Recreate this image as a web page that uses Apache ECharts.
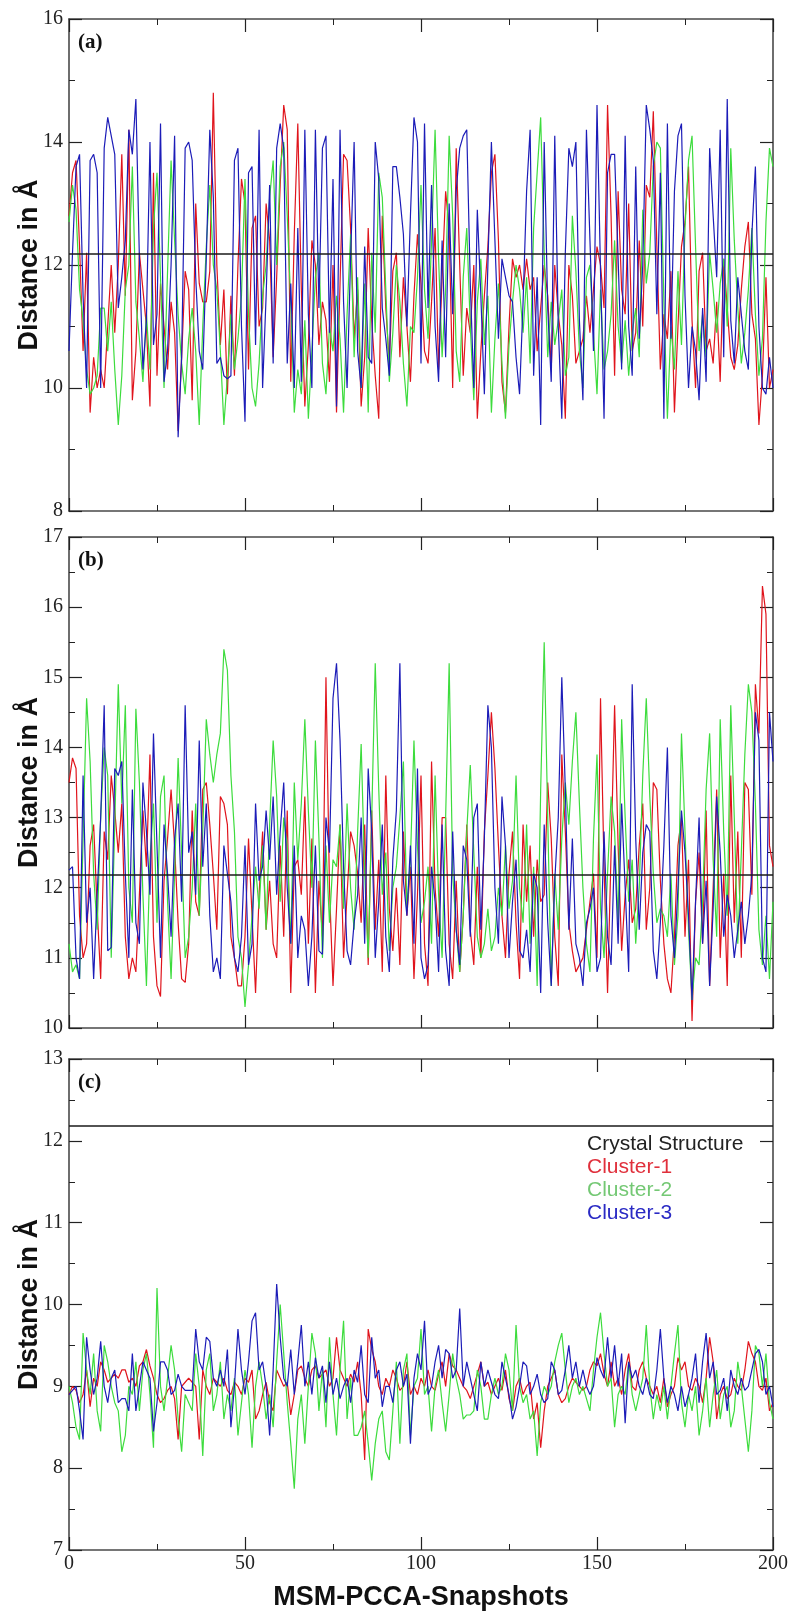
<!DOCTYPE html>
<html>
<head>
<meta charset="utf-8">
<title>Distance vs MSM-PCCA snapshots</title>
<script src="https://cdn.jsdelivr.net/npm/echarts@6/dist/echarts.min.js"></script>
<style>
	html, body { margin: 0; padding: 0; background: #fff; }
	#myChart { width: 792px; height: 1614px; }
</style>
</head>
<body>
<div id="myChart"></div>
<script>
//快照序号 0..200
var snapshots = [];
for (var i = 0; i <= 200; i++) {
	snapshots.push(i);
}
var xTicks = [0, 50, 100, 150, 200];
var crystalX = [0, 200];
var crystalY = 12.18;
var seriesNames = ['Crystal Structure', 'Cluster-1', 'Cluster-2', 'Cluster-3'];
var panelTags = ['(a)', '(b)', '(c)'];

// (a)
var aRed = [12.8,13.5,13.7,12.3,10.6,12.2,9.6,10.5,10.0,10.3,
	10.0,11.0,12.0,10.9,12.0,13.8,11.5,14.2,9.8,10.6,
	12.2,11.6,11.0,9.7,13.5,10.2,11.7,11.0,10.3,11.4,
	10.9,9.3,10.5,11.9,11.6,9.8,13.0,11.7,11.4,11.4,
	11.9,14.8,12.0,10.7,11.6,9.9,11.5,10.2,12.0,13.4,
	13.0,10.3,12.6,12.8,11.0,11.3,13.0,12.4,10.5,11.8,
	13.3,14.6,14.2,10.1,12.5,14.3,11.6,9.7,10.7,12.4,
	12.0,10.7,11.4,11.1,10.1,12.0,9.6,11.7,13.8,13.7,
	12.6,10.8,11.6,9.7,10.5,12.6,11.1,10.2,9.5,12.8,
	11.3,10.4,11.9,12.2,10.5,11.8,11.0,10.1,11.5,12.5,
	11.7,10.6,10.4,11.4,12.6,10.3,11.8,13.2,12.6,10.0,
	13.9,12.0,10.2,11.3,10.9,12.0,9.5,10.6,11.5,12.3,
	13.5,13.8,12.4,10.1,9.6,11.0,12.1,11.8,12.0,11.6,
	12.1,11.6,11.8,10.6,11.3,12.0,11.5,10.3,12.0,11.2,
	10.7,9.5,12.0,11.5,10.4,10.6,10.8,11.5,10.9,11.6,
	12.3,12.0,11.3,14.6,12.8,10.2,13.2,11.6,11.2,13.0,
	10.6,10.9,12.4,11.0,13.3,13.1,14.5,12.3,10.3,11.2,
	10.8,11.9,9.6,11.0,12.3,12.7,13.6,11.1,10.0,11.9,
	12.2,10.6,10.8,10.4,11.4,10.1,12.1,11.3,10.5,10.3,
	10.7,11.6,12.3,12.7,11.2,10.8,9.4,10.2,11.8,10.0,
	10.3];
var aGreen = [12.7,13.3,12.9,11.6,11.1,10.3,9.9,10.0,10.2,11.3,
	11.3,10.6,11.4,10.3,9.4,10.2,11.6,12.0,13.6,11.4,
	10.8,10.1,11.2,10.3,12.6,13.5,11.8,10.0,11.9,13.7,
	12.4,11.2,10.4,9.9,10.8,11.3,10.6,9.4,11.0,12.3,
	13.3,12.0,11.6,10.6,9.4,10.2,11.2,10.3,10.8,11.5,
	13.4,11.2,10.0,9.7,10.4,11.5,12.0,13.1,13.7,12.0,
	13.6,14.0,12.8,11.4,9.6,10.3,9.9,11.1,9.5,10.6,
	11.8,12.2,10.4,9.9,11.0,10.6,11.5,10.8,9.6,11.2,
	12.5,10.5,11.8,10.0,11.7,9.6,12.2,10.9,13.5,13.1,
	11.6,10.1,10.9,12.0,11.4,10.4,9.7,11.0,10.9,11.8,
	13.3,11.6,10.8,12.4,14.2,12.1,10.5,11.6,14.1,12.8,
	10.6,10.1,11.8,12.6,11.0,9.8,11.4,12.1,10.7,11.5,
	9.6,10.8,11.7,10.4,9.5,10.7,11.4,12.0,11.6,10.9,
	11.8,10.4,12.6,13.5,14.4,12.2,10.5,11.4,10.7,11.1,
	11.6,10.2,10.5,12.8,11.9,10.6,10.0,11.8,12.0,10.9,
	9.9,11.6,10.3,10.6,11.2,12.4,11.0,10.4,11.1,10.2,
	10.9,11.3,10.5,12.9,11.7,12.2,13.6,14.0,13.9,11.4,
	9.5,11.0,10.3,11.9,10.7,12.6,13.7,14.1,12.3,10.6,
	11.2,10.5,12.2,11.6,10.9,11.7,12.1,11.0,13.9,12.4,
	11.3,10.4,10.9,11.6,12.6,11.2,10.2,10.8,12.7,13.9,
	13.6];
var aBlue = [10.6,12.2,13.6,13.8,11.5,10.0,13.7,13.8,13.5,10.0,
	13.9,14.4,14.1,13.8,11.3,11.8,12.4,14.2,13.8,14.7,
	12.1,10.3,11.1,14.0,10.7,11.2,14.3,10.1,10.6,12.0,
	14.1,9.2,10.5,13.9,14.0,13.7,11.8,10.6,10.3,12.1,
	14.2,13.1,10.4,10.5,10.2,10.15,10.2,13.7,13.9,11.0,
	9.45,13.5,13.6,10.7,14.2,10.0,11.5,13.3,10.4,13.9,
	14.3,13.9,10.4,11.7,10.0,12.6,10.1,14.2,11.2,10.0,
	14.2,11.3,13.9,14.1,10.9,13.4,9.7,14.2,11.4,10.0,
	12.1,14.0,10.6,10.0,12.3,10.5,10.4,14.0,13.4,11.3,
	10.8,10.2,13.6,13.6,13.1,12.5,11.0,12.8,14.4,14.0,
	10.4,14.3,11.3,13.3,11.0,10.1,12.4,10.5,13.0,11.2,
	13.2,13.9,14.1,14.2,11.7,10.0,12.9,11.5,9.9,12.0,
	14.0,12.4,10.8,12.1,11.8,11.5,11.4,10.5,9.9,11.4,
	13.2,14.2,10.2,11.8,9.4,14.0,11.3,10.1,14.1,11.0,
	9.5,12.2,13.9,13.6,14.0,11.1,9.8,14.2,12.4,10.6,
	14.6,11.9,9.5,13.5,13.8,13.8,12.1,10.3,14.1,11.0,
	10.2,13.6,10.8,12.0,14.6,14.2,13.7,11.2,13.5,9.5,
	14.3,10.8,13.2,14.1,14.3,11.5,10.0,11.0,10.6,9.8,
	11.3,10.1,13.9,12.8,11.8,14.2,10.5,14.7,11.1,10.4,
	11.8,11.2,10.6,10.3,12.5,13.6,11.0,10.0,9.9,10.5,
	10.0];

// (b)
var bRed = [13.5,13.85,13.7,11.6,11.0,11.2,12.6,12.9,11.7,10.7,
	12.8,12.4,13.6,13.1,12.5,13.2,11.3,10.7,11.0,10.8,
	11.9,13.1,12.3,13.9,11.3,10.6,10.45,12.1,12.7,13.4,
	12.6,11.5,10.7,10.65,11.2,13.1,11.8,11.6,13.4,13.5,
	12.9,12.2,11.4,13.3,13.2,12.9,11.3,11.0,10.6,10.6,
	11.3,12.7,11.6,10.5,11.9,12.8,11.4,12.1,11.2,11.0,
	12.6,11.3,13.1,10.5,12.3,12.4,11.9,13.3,11.2,12.7,
	10.5,12.1,11.3,15.0,12.0,10.6,11.7,12.9,11.0,11.9,
	12.8,12.6,12.2,11.5,12.9,10.9,13.1,11.4,12.4,10.8,
	13.6,11.7,11.1,12.0,10.9,12.8,11.6,12.3,10.7,11.9,
	13.6,11.2,10.6,13.8,12.0,11.3,13.0,13.0,11.2,10.7,
	12.1,10.8,11.6,12.9,11.4,10.9,12.3,11.0,12.8,13.6,
	14.5,13.7,12.6,11.6,11.0,12.2,12.8,11.5,10.7,12.9,
	11.8,12.6,11.3,12.4,11.8,11.9,13.5,12.7,11.3,10.6,
	13.9,12.8,11.5,11.1,10.8,10.9,11.0,11.4,11.8,12.2,
	11.0,14.7,12.3,10.5,12.5,14.6,12.6,11.1,11.9,12.4,
	11.5,11.7,12.6,13.2,11.4,12.0,13.5,13.4,12.1,11.2,
	10.7,10.5,11.3,12.6,13.0,11.3,12.4,10.1,11.8,12.5,
	11.2,13.1,10.6,12.0,13.4,11.0,12.2,10.6,13.6,11.5,
	12.8,11.0,13.5,13.4,11.9,14.9,14.2,16.3,15.9,12.6,
	12.3];
var bGreen = [11.2,10.8,10.9,10.7,12.7,14.7,13.8,12.2,11.4,13.0,
	14.0,13.6,11.0,12.9,14.9,13.2,14.6,12.0,11.5,14.55,
	13.5,11.9,10.6,12.4,13.2,11.5,13.3,13.6,11.8,10.7,
	12.2,13.85,12.5,11.0,11.3,12.0,13.2,11.6,12.8,14.4,
	13.9,13.5,13.9,14.2,15.4,15.1,13.6,12.8,11.3,11.0,
	10.3,10.9,11.6,12.3,11.7,12.6,11.4,12.9,14.1,13.3,
	11.8,13.0,12.6,11.2,13.5,12.4,13.2,14.4,13.1,12.0,
	14.1,12.7,11.0,12.6,11.5,12.4,12.3,12.9,11.7,13.2,
	12.0,11.4,12.8,14.05,12.2,11.0,13.0,15.2,13.4,11.9,
	12.5,11.1,12.0,12.3,13.0,13.8,11.7,12.4,14.1,12.6,
	11.5,11.8,12.3,11.2,13.6,11.9,11.0,13.0,15.2,12.2,
	11.4,10.8,11.6,12.8,13.75,12.5,11.3,11.0,11.2,11.7,
	11.1,11.3,12.0,11.6,12.6,11.7,12.1,13.6,12.0,11.5,
	12.9,11.2,12.3,10.6,13.4,15.5,13.0,10.6,12.2,11.4,
	12.7,13.5,12.9,13.8,14.5,13.2,12.0,11.2,10.8,12.7,
	13.9,11.7,11.0,12.2,13.3,12.8,11.5,14.4,13.0,11.8,
	12.4,11.2,12.0,13.6,14.7,13.3,12.2,11.5,11.7,11.6,
	11.3,12.2,10.9,11.6,14.2,12.8,11.4,10.4,11.0,10.9,
	11.8,13.4,14.2,12.4,11.3,14.4,12.8,11.6,14.6,13.0,
	11.2,12.5,13.9,14.9,14.5,13.2,11.4,10.9,11.6,10.7,
	11.8];
var bBlue = [12.25,12.3,11.0,10.7,13.6,11.5,12.0,10.7,11.9,13.0,
	14.6,11.1,11.15,13.7,13.6,13.8,12.2,11.0,13.4,11.5,
	11.2,13.5,12.8,11.9,14.2,12.6,11.0,12.9,12.2,11.3,
	12.7,13.2,11.8,14.6,12.5,12.8,11.9,14.1,12.3,13.2,
	11.6,10.8,11.0,10.7,12.6,12.2,11.8,11.0,10.8,11.3,
	12.6,10.9,11.2,13.2,12.1,12.3,13.1,12.4,13.3,11.9,
	12.8,13.5,12.0,11.2,12.6,11.0,11.6,11.4,10.6,11.3,
	12.6,11.1,11.05,13.0,12.5,14.7,15.2,14.1,12.3,11.1,
	10.9,11.5,11.9,13.0,11.2,13.7,12.8,11.0,11.8,12.9,
	11.3,10.8,12.4,13.1,15.2,12.1,11.6,12.6,11.2,13.7,
	11.0,10.7,10.9,12.3,11.8,10.8,12.9,11.1,10.6,12.8,
	11.4,10.9,12.6,12.4,11.3,13.0,13.2,11.4,12.7,14.6,
	14.0,12.0,11.2,13.3,12.6,11.0,11.8,12.4,11.1,11.0,
	11.4,10.8,12.2,12.0,10.5,12.9,11.5,10.6,12.1,13.0,
	15.0,13.4,11.4,12.7,11.2,11.0,10.6,11.5,11.7,12.0,
	10.8,11.0,12.8,11.3,10.9,12.6,11.2,13.2,12.0,10.8,
	14.9,12.7,11.4,12.5,12.9,12.8,11.1,10.7,11.5,12.6,
	14.0,11.6,11.0,12.0,13.1,12.5,11.6,10.4,11.8,13.0,
	11.2,12.1,10.6,11.7,13.3,12.5,11.3,11.9,11.6,11.0,
	11.4,11.8,11.2,11.6,12.2,14.5,14.1,11.0,10.8,14.5,
	13.8];

// (c)
var cRed = [8.9,9.0,8.95,8.8,8.9,9.2,8.75,9.1,9.0,9.3,
	9.2,9.05,9.1,9.15,9.1,9.2,9.2,9.05,9.1,9.0,
	9.25,9.3,9.45,9.25,9.1,8.9,8.8,8.85,8.95,9.0,
	8.85,8.35,9.0,9.05,9.1,9.05,9.0,8.35,9.2,9.0,
	8.9,9.1,9.05,9.0,9.1,8.95,8.9,9.05,9.0,8.9,
	9.1,9.05,9.2,8.6,8.7,8.9,9.05,8.8,8.7,9.2,
	9.1,9.0,9.05,8.65,8.9,9.2,9.25,9.1,9.0,9.2,
	9.25,9.1,9.15,9.2,9.0,9.1,9.6,9.2,9.1,9.0,
	9.15,9.05,9.3,8.9,8.1,9.7,9.45,9.3,9.0,8.9,
	9.1,9.0,9.2,9.1,8.95,9.0,9.3,8.9,9.0,8.9,
	9.1,9.0,9.2,9.0,8.95,9.15,9.3,9.0,9.4,9.25,
	9.2,9.1,9.0,8.95,8.85,9.0,9.15,9.3,9.0,9.05,
	8.9,9.0,9.1,8.95,9.2,8.85,8.7,9.0,9.1,8.9,
	9.0,9.05,8.6,8.8,8.25,8.7,9.0,9.1,9.2,8.9,
	8.8,8.85,9.0,9.1,9.05,9.0,8.95,9.0,9.2,9.3,
	9.25,9.4,9.15,9.0,9.3,9.0,9.1,8.9,9.2,9.4,
	9.0,8.95,9.2,9.3,9.1,9.0,8.9,9.0,8.8,9.1,
	8.75,8.9,9.0,9.35,9.2,9.3,9.0,8.95,9.1,9.0,
	8.8,9.1,9.6,9.3,8.6,8.9,9.0,8.85,8.9,9.1,
	9.0,8.95,9.2,9.55,9.4,9.3,9.0,8.95,9.1,8.7,
	8.8];
var cGreen = [9.0,8.8,8.5,8.35,9.65,9.2,8.9,9.4,8.7,8.45,
	9.5,9.3,9.0,8.8,8.7,8.2,8.4,9.0,8.9,9.3,
	8.7,9.2,9.4,8.9,8.25,10.2,9.0,8.7,9.1,9.5,
	9.2,8.6,8.2,8.9,8.8,8.7,9.4,9.0,8.15,9.2,
	9.4,8.7,8.9,9.3,8.6,8.9,8.7,9.1,8.4,8.8,
	9.2,8.9,8.25,9.0,9.3,9.0,8.6,8.9,8.5,9.3,
	10.0,9.4,8.8,8.3,7.75,8.6,8.9,8.3,9.0,9.65,
	9.4,8.7,9.2,8.5,9.6,8.9,8.4,9.2,9.8,8.6,
	9.1,8.4,8.4,8.5,8.7,8.3,7.85,8.3,8.6,8.7,
	8.2,8.1,8.7,9.3,8.3,9.2,9.4,8.4,9.0,9.1,
	9.7,8.9,9.0,8.45,9.0,9.2,8.8,8.45,8.9,9.4,
	9.1,8.9,8.6,8.65,8.65,8.7,9.2,9.0,8.6,8.6,
	8.9,9.1,8.9,9.0,9.4,9.2,8.7,9.75,9.0,8.8,
	8.9,8.6,8.7,8.15,8.8,9.0,8.9,9.0,9.3,9.5,
	9.65,9.2,8.8,9.0,9.1,8.9,9.0,8.85,8.7,9.2,
	9.6,9.9,9.4,9.0,9.1,8.5,8.9,9.0,8.9,9.3,
	8.9,8.7,8.9,9.1,9.75,9.0,8.6,8.9,8.7,9.0,
	8.6,9.0,9.4,9.75,8.8,8.5,8.9,8.7,9.0,8.4,
	8.7,9.1,8.5,8.9,9.2,8.6,8.9,9.0,8.5,8.7,
	9.3,9.0,8.6,8.2,8.7,9.5,9.4,9.0,9.4,8.8,
	8.6];
var cBlue = [8.9,8.95,9.0,8.7,8.35,9.6,9.2,8.9,9.1,9.55,
	9.0,8.8,9.1,9.2,8.8,8.85,8.85,8.7,9.4,8.7,
	9.0,9.3,9.2,9.1,8.45,8.8,9.3,9.3,9.2,8.9,
	8.95,9.15,9.0,8.95,8.95,8.95,9.7,9.3,9.2,9.6,
	9.55,9.1,9.0,9.2,9.0,9.45,8.5,9.0,9.7,9.2,
	8.9,9.3,9.8,9.9,9.2,9.3,9.0,8.4,9.2,10.25,
	9.6,9.1,9.0,9.45,8.9,9.3,9.75,9.0,9.3,8.9,
	9.35,9.1,9.25,8.8,9.3,8.9,9.1,8.85,9.0,9.1,
	8.8,9.2,9.05,9.5,8.9,8.8,9.6,9.1,9.2,8.75,
	9.0,9.0,8.8,9.2,9.3,9.0,9.15,8.3,9.1,9.4,
	9.2,9.8,8.9,9.0,9.3,9.5,9.1,9.45,9.4,9.1,
	9.2,9.95,9.0,9.3,9.1,8.9,8.7,9.3,9.0,9.2,
	9.05,8.9,8.85,9.3,9.1,8.9,8.6,8.75,9.0,9.3,
	9.25,8.9,9.0,9.15,8.9,8.8,8.85,9.3,9.2,8.9,
	8.95,9.2,9.5,9.1,9.3,9.0,9.2,9.0,8.9,9.0,
	9.35,9.2,9.1,9.6,9.1,9.5,9.0,9.4,8.55,9.3,
	9.1,9.2,9.0,8.9,9.1,8.9,8.85,9.2,9.7,9.1,
	8.8,9.0,8.9,8.7,9.0,8.75,8.9,9.1,9.4,8.8,
	9.3,9.65,9.1,9.3,8.9,8.95,9.1,8.7,9.2,9.0,
	8.9,9.1,8.95,9.0,9.2,9.4,9.45,9.3,8.9,9.0,
	8.75];

(function() {
	var myChart = echarts.init(document.getElementById('myChart'), null, {
		renderer: 'canvas'
	});

	var colors = {
		crystal: '#1a1a1a',
		red: '#e0141c',
		green: '#3ddc3d',
		blue: '#1c1cb8'
	};
	var legendColors = ['#222222', '#e0303c', '#74c874', '#2a2ac4'];
	var serif = '"Liberation Serif", "DejaVu Serif", serif';
	var sans = '"Liberation Sans", Arial, sans-serif';

	//三个子图的位置和y轴范围
	var panels = [
		{ top: 19, height: 492, min: 8, max: 16, interval: 2, lines: [aRed, aGreen, aBlue] },
		{ top: 537, height: 491, min: 10, max: 17, interval: 1, lines: [bRed, bGreen, bBlue] },
		{ top: 1059, height: 491, min: 7, max: 13, interval: 1, lines: [cRed, cGreen, cBlue] }
	];
	var gridLeft = 69;
	var gridWidth = 704;

	function pairs(values) {
		return values.map(function(v, i) {
			return [snapshots[i], v];
		});
	}

	var grids = [];
	var xAxes = [];
	var yAxes = [];
	var series = [];
	var graphics = [];
	var frame = { show: true, onZero: false, lineStyle: { color: '#4a4a4a', width: 1.6 } };
	var tick = { show: true, inside: true, length: 13, lineStyle: { color: '#222', width: 1.2 } };
	var minor = { show: true, splitNumber: 2, length: 6, lineStyle: { color: '#222', width: 1 } };

	panels.forEach(function(p, k) {
		var last = k === panels.length - 1;
		grids.push({
			left: gridLeft,
			top: p.top,
			width: gridWidth,
			height: p.height,
			containLabel: false
		});
		//下方x轴
		xAxes.push({
			type: 'value',
			gridIndex: k,
			position: 'bottom',
			min: xTicks[0],
			max: xTicks[xTicks.length - 1],
			interval: 50,
			axisLine: frame,
			axisTick: tick,
			minorTick: minor,
			splitLine: { show: false },
			axisLabel: {
				show: last,
				margin: 4,
				color: '#222',
				fontFamily: serif,
				fontSize: 20
			},
			name: last ? 'MSM-PCCA-Snapshots' : '',
			nameLocation: 'middle',
			nameGap: 34,
			nameMoveOverlap: false,
			nameTextStyle: {
				color: '#111',
				fontFamily: sans,
				fontWeight: 'bold',
				fontSize: 27
			}
		});
		//上方x轴（只画刻度）
		xAxes.push({
			type: 'value',
			gridIndex: k,
			position: 'top',
			min: xTicks[0],
			max: xTicks[xTicks.length - 1],
			interval: 50,
			axisLine: frame,
			axisTick: tick,
			minorTick: minor,
			splitLine: { show: false },
			axisLabel: { show: false }
		});
		//左侧y轴
		yAxes.push({
			type: 'value',
			gridIndex: k,
			position: 'left',
			min: p.min,
			max: p.max,
			interval: p.interval,
			axisLine: frame,
			axisTick: tick,
			minorTick: minor,
			splitLine: { show: false },
			axisLabel: {
				margin: 6,
				color: '#222',
				fontFamily: serif,
				fontSize: 20
			},
			name: 'Distance in Å',
			nameLocation: 'middle',
			nameGap: 26,
			nameMoveOverlap: false,
			nameTextStyle: {
				color: '#111',
				fontFamily: sans,
				fontWeight: 'bold',
				fontSize: 27
			}
		});
		//右侧y轴（只画刻度）
		yAxes.push({
			type: 'value',
			gridIndex: k,
			position: 'right',
			min: p.min,
			max: p.max,
			interval: p.interval,
			axisLine: frame,
			axisTick: tick,
			minorTick: minor,
			splitLine: { show: false },
			axisLabel: { show: false }
		});

		var lineColors = [colors.red, colors.green, colors.blue];
		p.lines.forEach(function(values, j) {
			series.push({
				name: seriesNames[j + 1],
				type: 'line',
				xAxisIndex: 2 * k,
				yAxisIndex: 2 * k,
				data: pairs(values),
				showSymbol: false,
				symbol: 'none',
				silent: true,
				lineStyle: { color: lineColors[j], width: 1.2 },
				z: 2 + j
			});
		});
		//晶体结构参考线
		series.push({
			name: seriesNames[0],
			type: 'line',
			xAxisIndex: 2 * k,
			yAxisIndex: 2 * k,
			data: crystalX.map(function(x) { return [x, crystalY]; }),
			showSymbol: false,
			symbol: 'none',
			silent: true,
			lineStyle: { color: colors.crystal, width: 1.5 },
			z: 6
		});

		graphics.push({
			type: 'text',
			left: 78,
			top: p.top + 13,
			style: {
				text: panelTags[k],
				fill: '#111',
				font: 'bold 21px ' + serif
			}
		});
	});

	//图例文字
	seriesNames.forEach(function(name, j) {
		graphics.push({
			type: 'text',
			left: 587,
			top: 1134 + j * 23,
			style: {
				text: name,
				fill: legendColors[j],
				font: '21px ' + sans
			}
		});
	});

	var option = {
		animation: false,
		backgroundColor: '#ffffff',
		grid: grids,
		xAxis: xAxes,
		yAxis: yAxes,
		series: series,
		graphic: graphics
	};
	myChart.setOption(option);
})();
</script>
</body>
</html>
